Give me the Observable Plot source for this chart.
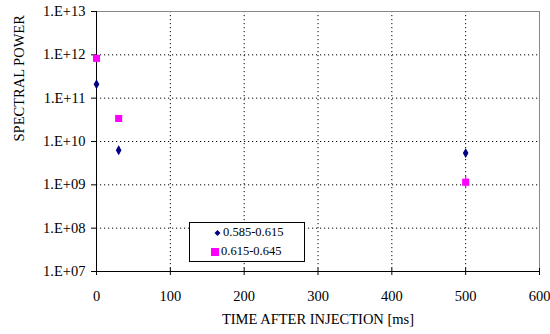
<!DOCTYPE html>
<html><head><meta charset="utf-8">
<script src="https://cdn.jsdelivr.net/npm/d3@7"></script>
<script src="https://cdn.jsdelivr.net/npm/@observablehq/plot@0.6"></script>
<style>
body{margin:0;background:#fff;}
#wrap{position:relative;width:550px;height:334px;font-family:"Liberation Serif","Times New Roman",serif;}
#chart svg text{font-family:"Liberation Serif","Times New Roman",serif;font-size:14.5px;}
#legend{position:absolute;left:189px;top:222px;width:114px;height:38px;border:1px solid #000;background:#fff;font-size:12.5px;}
.row{position:absolute;left:0;display:flex;align-items:center;}
.mk{display:inline-block;margin-right:2px;}
</style></head>
<body><div id="wrap"><div id="chart"></div>
<div id="legend">
<div class="row" style="left:24px;top:2px"><svg class="mk" width="7" height="8"><path d="M3.5,1L6.5,4L3.5,7L0.5,4Z" fill="#000080"/></svg><span>0.585-0.615</span></div>
<div class="row" style="left:21px;top:21px"><svg class="mk" width="8" height="8"><rect x="0" y="0" width="8" height="8" fill="#FF00FF"/></svg><span>0.615-0.645</span></div>
</div></div>
<script>
const times = [0, 30, 500];
const series1Name = "0.585-0.615";
const series1 = [2.1e11, 6.3e9, 5.4e9];
const series1Low = [1.95e11, 5.1e9, 4.5e9];
const series1High = [2.25e11, 7.6e9, 6.3e9];
const series2Name = "0.615-0.645";
const series2 = [8.3e11, 3.4e10, 1.15e9];
const series2Low = [8.0e11, 3.2e10, 0.82e9];
const series2High = [8.6e11, 3.6e10, 1.55e9];
const xTicks = [0, 100, 200, 300, 400, 500, 600];
const yTicks = [1e7, 1e8, 1e9, 1e10, 1e11, 1e12, 1e13];

const d1 = times.map((t,i)=>({t, v:series1[i], lo:series1Low[i], hi:series1High[i]}));
const d2 = times.map((t,i)=>({t, v:series2[i], lo:series2Low[i], hi:series2High[i]}));
const fmt = d => "1.E+" + String(Math.round(Math.log10(d))).padStart(2,"0");

const chart = Plot.plot({
  width: 550, height: 334,
  marginLeft: 96, marginRight: 11, marginTop: 11, marginBottom: 63,
  style: {fontFamily: '"Liberation Serif","Times New Roman",serif', fontSize: "14.5px", background: "#fff", color: "#000"},
  x: {type: "linear", domain: [0, 600]},
  y: {type: "log", domain: [1e7, 1e13]},
  marks: [
    Plot.gridX(xTicks.filter(d=>d>0 && d<600), {stroke: "#000", strokeOpacity: 1, strokeDasharray: "1.2,2.8"}),
    Plot.gridY(yTicks.filter(d=>d>1e7 && d<1e13), {stroke: "#000", strokeOpacity: 1, strokeDasharray: "1.2,2.8"}),
    Plot.ruleY([1e13], {stroke: "#888"}),
    Plot.ruleX([600], {stroke: "#888"}),
    Plot.axisY({ticks: yTicks, tickFormat: fmt, tickSize: 5, tickPadding: 6, label: null}),
    Plot.axisX({ticks: xTicks, tickSize: 4, tickPadding: 15, label: null}),
    Plot.axisX({ticks: xTicks, tickSize: -3, tickFormat: () => "", label: null}),
    Plot.ruleX([0], {stroke: "#000"}),
    Plot.ruleY([1e7], {stroke: "#000"}),
    Plot.ruleX(d1, {x: "t", y1: "lo", y2: "hi", stroke: "#000080", strokeWidth: 1.2}),
    Plot.ruleX(d2, {x: "t", y1: "lo", y2: "hi", stroke: "#FF00FF", strokeWidth: 1.2}),
    Plot.dot(d2, {x: "t", y: "v", symbol: "square", r: 4, fill: "#FF00FF", stroke: "none"}),
    Plot.dot(d1, {x: "t", y: "v", symbol: "diamond", r: 3, fill: "#000080", stroke: "none"}),
    Plot.text(["TIME AFTER INJECTION [ms]"], {frameAnchor: "bottom", dy: 52}),
    Plot.text(["SPECTRAL POWER"], {frameAnchor: "left", dx: -77, rotate: -90})
  ]
});
document.getElementById("chart").appendChild(chart);
</script>
</body></html>
